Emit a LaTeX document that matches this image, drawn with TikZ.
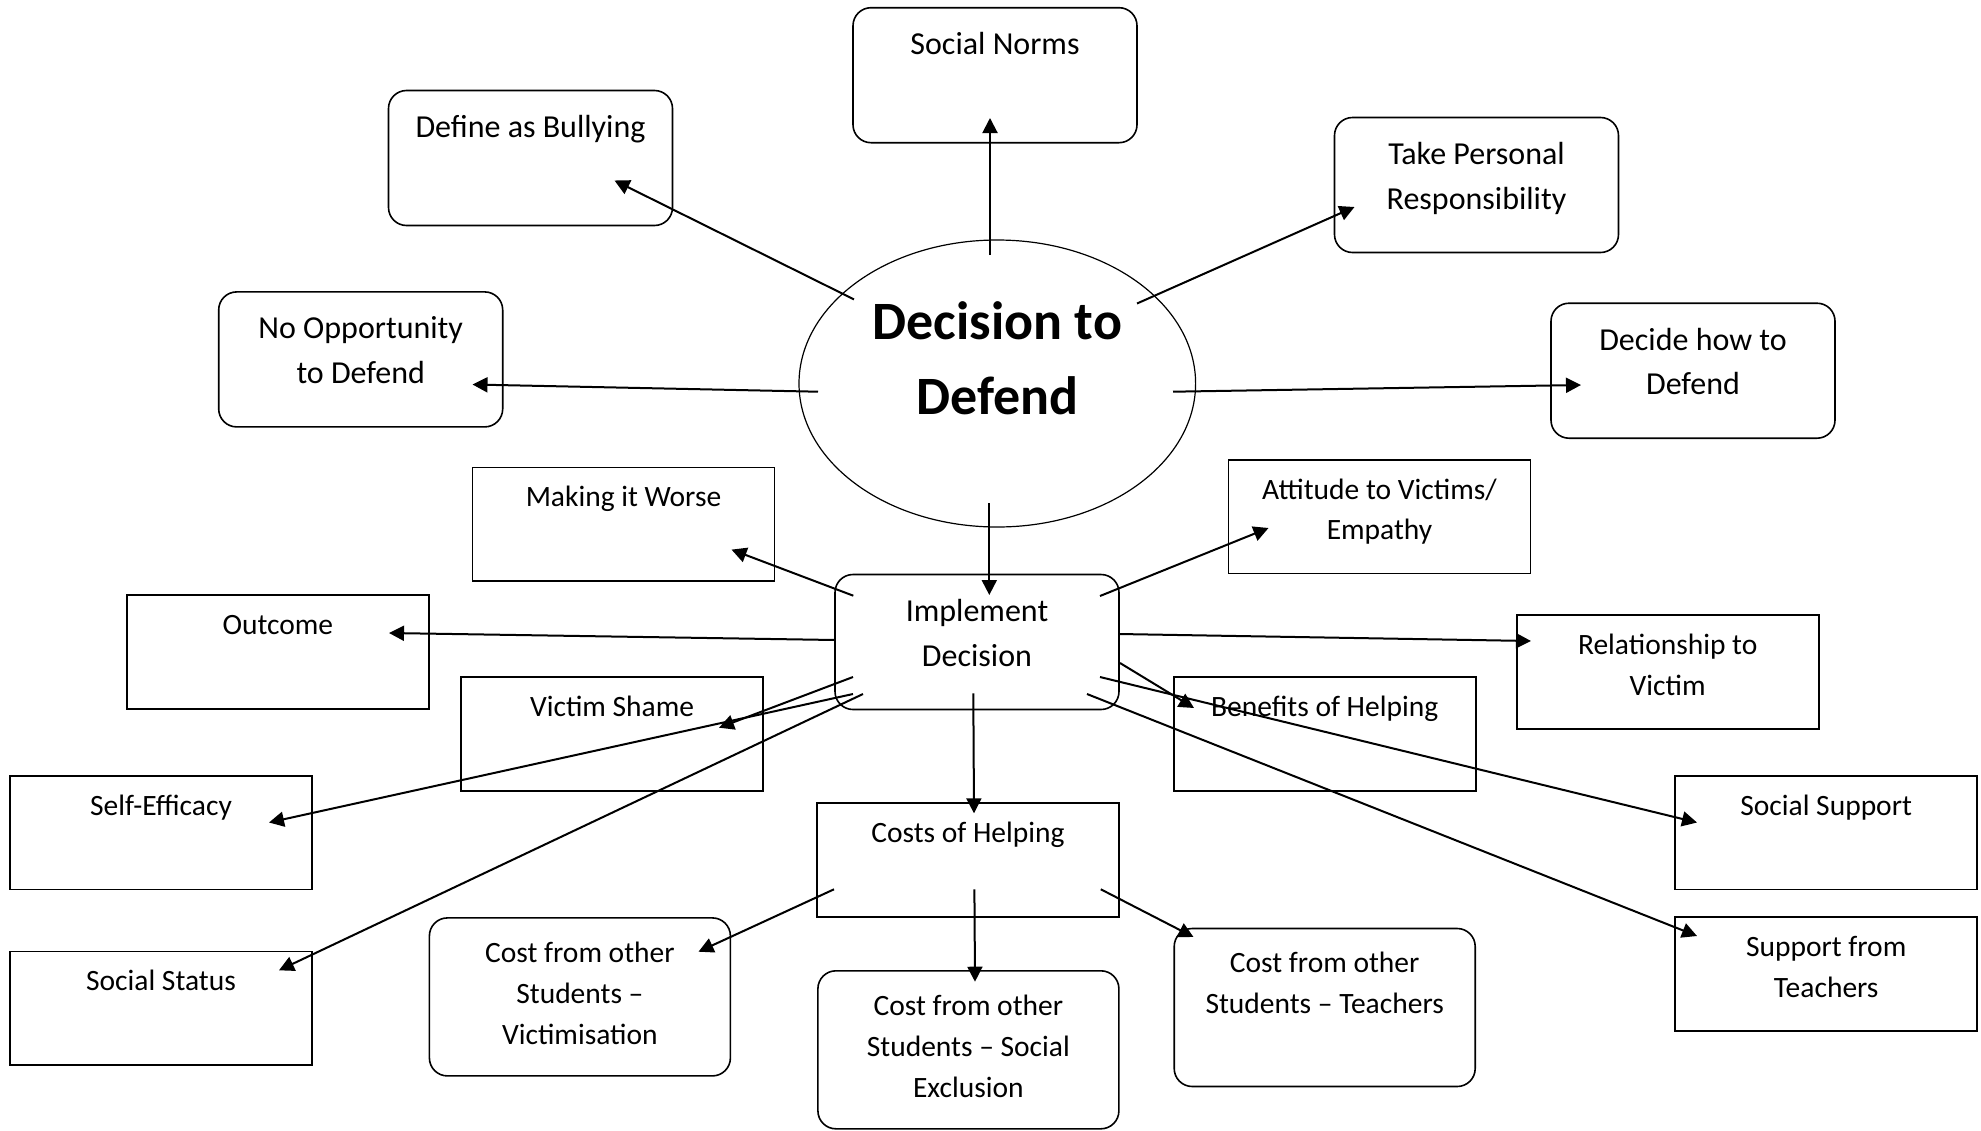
\documentclass[tikz,border=0pt]{standalone}
\usepackage{fontspec}
\setmainfont{Carlito}
\usetikzlibrary{shapes.geometric,arrows.meta,calc}
\newcommand\bxt[5]{\parbox[c][#2][t]{#1}{\centering\baselineskip=#4\relax\rule{0pt}{#3}#5}}
\newcommand\ta[1]{\bxt{142pt}{67.5pt}{23.5pt}{22.25pt}{#1}}
\newcommand\tb[1]{\bxt{151pt}{56.9pt}{19.65pt}{20.25pt}{#1}}
\newcommand\tc[1]{\bxt{150.5pt}{79pt}{22.2pt}{20.5pt}{#1}}
\tikzset{
  boxa/.style={draw, rounded corners=9pt, inner sep=0pt, line width=0.8pt, font=\fontsize{16pt}{22.25pt}\selectfont},
  boxb/.style={draw, inner sep=0pt, line width=0.8pt, font=\fontsize{14.75pt}{20.25pt}\selectfont},
  boxc/.style={draw, rounded corners=9pt, inner sep=0pt, line width=0.8pt, font=\fontsize{14.75pt}{20.5pt}\selectfont},
  arr/.style={-{Triangle[length=7.5pt,width=7.5pt]}, line width=1pt},
}
\begin{document}
\begin{tikzpicture}[x=0.5pt,y=-0.5pt]
\fill[white] (0,0) rectangle (1981,1130);
\useasboundingbox (0,0) rectangle (1981,1130);
% rounded boxes
\node[boxa] (norms) at (995,75.2) {\ta{Social Norms}};
\node[boxa] (bully) at (530.5,158) {\ta{Define as Bullying}};
\node[boxa] (resp) at (1476.5,185) {\ta{Take Personal\\Responsibility}};
\node[boxa] (noopp) at (360.7,359.4) {\ta{No Opportunity\\to Defend}};
\node[boxa] (how) at (1693,370.7) {\ta{Decide how to\\Defend}};
\node[boxa] (impl) at (977,642) {\ta{Implement\\Decision}};
% central ellipse
\node[draw, ellipse, minimum width=198.3pt, minimum height=143.5pt, inner sep=0pt, line width=0.6pt] (dec) at (997.3,383.5) {};
\node[font=\bfseries\fontsize{27pt}{37.5pt}\selectfont, anchor=base, inner sep=0pt] (dect) at (997.3,339.3) {\parbox[t]{200pt}{\centering Decision to\\Defend}};
% rectangular boxes
\node[boxb] (worse) at (623.5,524.2) {\tb{Making it Worse}};
\node[boxb] (att) at (1379.5,516.7) {\tb{Attitude to Victims/\\Empathy}};
\node[boxb] (outcome) at (277.8,652) {\tb{Outcome}};
\node[boxb] (rel) at (1667.7,672.1) {\tb{Relationship to\\Victim}};
\node[boxb] (shame) at (612.1,734) {\tb{Victim Shame}};
\node[boxb] (benef) at (1324.7,734) {\tb{Benefits of Helping}};
\node[boxb] (selfeff) at (161,832.6) {\tb{Self-Efficacy}};
\node[boxb] (socsup) at (1826.2,832.6) {\tb{Social Support}};
\node[boxb] (costs) at (968,860) {\tb{Costs of Helping}};
\node[boxb] (status) at (161,1008.2) {\tb{Social Status}};
\node[boxb] (teach) at (1826.2,974.1) {\tb{Support from\\Teachers}};
% three-line rounded boxes
\node[boxc] (victim) at (579.9,996.9) {\tc{Cost from other\\Students --\\Victimisation}};
\node[boxc] (excl) at (968.4,1049.8) {\tc{Cost from other\\Students -- Social\\Exclusion}};
\node[boxc] (cteach) at (1324.7,1007.5) {\tc{Cost from other\\Students -- Teachers}};
% connectors from the decision
\draw[arr] ($(dec.center)+(-7.3,-128.5)$) -- ($(norms.center)+(-5,42.8)$);
\draw[arr] ($(dec.center)+(-143.3,-84.1)$) -- ($(bully.center)+(84,22.5)$);
\draw[arr] ($(dec.center)+(139.7,-80)$) -- ($(resp.center)+(-122,22)$);
\draw[arr] ($(dec.center)+(-179.3,8.2)$) -- ($(noopp.center)+(111.8,25.1)$);
\draw[arr] ($(dec.center)+(175.7,8.2)$) -- ($(how.center)+(-112,14.3)$);
\draw[arr] ($(dec.center)+(-8,119.8)$) -- ($(impl.center)+(12.3,-47)$);
% connectors from implement decision
\draw[arr] ($(impl.center)+(-123.7,-46.3)$) -- ($(worse.center)+(108,25.4)$);
\draw[arr] ($(impl.center)+(123,-46)$) -- ($(att.center)+(-111,11.3)$);
\draw[arr] ($(impl.center)+(-142,-2)$) -- ($(outcome.center)+(111.2,-19)$);
\draw[arr] ($(impl.center)+(142,-8)$) -- ($(rel.center)+(-136.7,-31.1)$);
\draw[arr] ($(impl.center)+(-124,35)$) -- ($(shame.center)+(106.9,-6.3)$);
\draw[arr] ($(impl.center)+(-124,52)$) -- ($(selfeff.center)+(108,-10.1)$);
\draw[arr] ($(impl.center)+(-114,52)$) -- ($(status.center)+(118,-37.9)$);
\draw[arr] ($(impl.center)+(123,35)$) -- ($(socsup.center)+(-129.2,-10.1)$);
\draw[arr] ($(impl.center)+(143,21)$) -- ($(benef.center)+(-130.7,-26)$);
\draw[arr] ($(impl.center)+(110,52)$) -- ($(teach.center)+(-129.2,-38.1)$);
\draw[arr] ($(impl.center)+(-3.7,51.3)$) -- ($(costs.center)+(6,-46.7)$);
% connectors from costs of helping
\draw[arr] ($(costs.center)+(-134,29.3)$) -- ($(victim.center)+(118.6,-45.2)$);
\draw[arr] ($(costs.center)+(6.4,29.3)$) -- ($(excl.center)+(6.6,-68.1)$);
\draw[arr] ($(costs.center)+(132.8,29.3)$) -- ($(cteach.center)+(-131.2,-70.5)$);
\end{tikzpicture}
\end{document}
